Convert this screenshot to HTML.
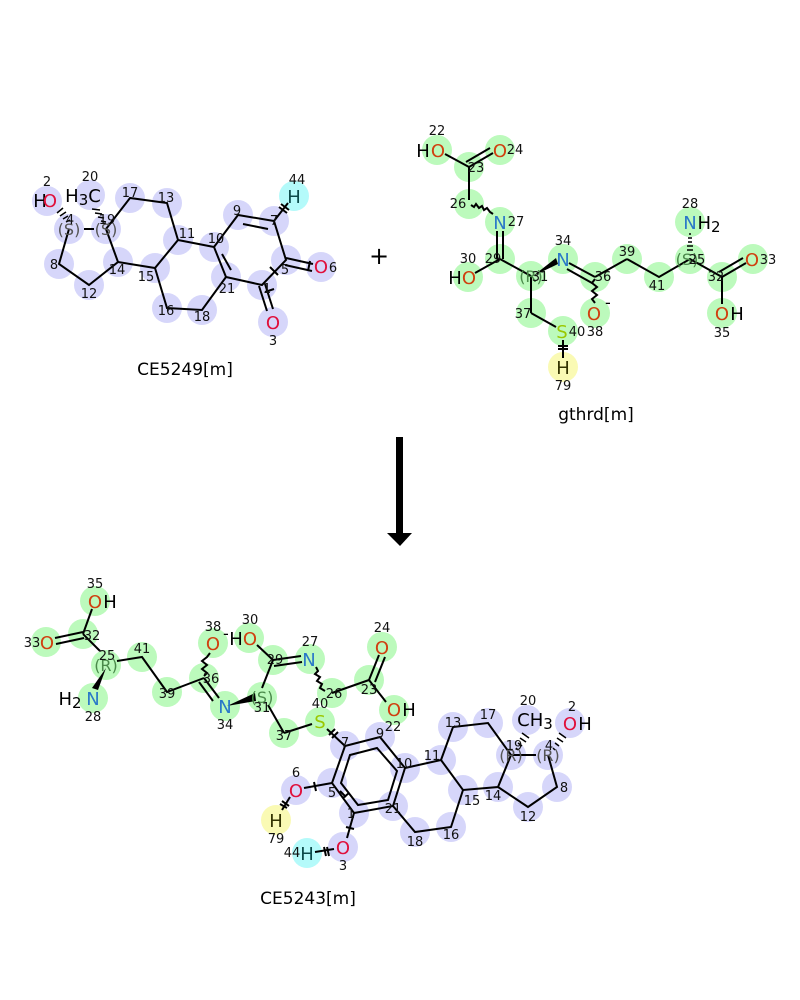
<!DOCTYPE html>
<html><head><meta charset="utf-8"><style>
html,body{margin:0;padding:0;background:#fff;}
svg{display:block;font-family:"DejaVu Sans","Liberation Sans",sans-serif;}
.n{font-size:13px;fill:#111;text-anchor:middle;}
.a{font-size:18px;text-anchor:middle;}
.b line,.b polyline,.b polygon{stroke:#000;stroke-width:2;fill:none;}
.cb circle{fill:#d6d6fa;}
.cg circle{fill:#bcfabc;}
.s{font-size:16px;fill:#555;text-anchor:middle;}
.sg{font-size:16px;fill:#4a8a4a;text-anchor:middle;}
</style></head><body>
<svg width="800" height="1000" viewBox="0 0 800 1000" xmlns="http://www.w3.org/2000/svg">
<!-- ============ Molecule 1 CE5249 ============ -->
<g class="cb">
<circle cx="47" cy="201" r="15"/><circle cx="69" cy="229" r="15"/><circle cx="106" cy="229" r="15"/>
<circle cx="90" cy="195" r="15"/><circle cx="130" cy="198" r="15"/><circle cx="167" cy="203" r="15"/>
<circle cx="178" cy="240" r="15"/><circle cx="214" cy="247" r="15"/><circle cx="238" cy="215" r="15"/>
<circle cx="274" cy="221" r="15"/><circle cx="286" cy="260" r="15"/><circle cx="321" cy="267" r="15"/>
<circle cx="262" cy="285" r="15"/><circle cx="273" cy="322" r="15"/><circle cx="226" cy="277" r="15"/>
<circle cx="202" cy="310" r="15"/><circle cx="167" cy="308" r="15"/><circle cx="155" cy="268" r="15"/>
<circle cx="118" cy="262" r="15"/><circle cx="89" cy="285" r="15"/><circle cx="59" cy="264" r="15"/>
</g>
<circle cx="294" cy="196" r="15" fill="#b4fafa"/>
<g class="b">
<polyline points="69,229 59,264 89,285 118,262 106,229"/>
<line x1="84" y1="229" x2="94" y2="229"/>
<polyline points="106,229 130,198 167,203 178,240 155,268 118,262"/>
<polyline points="178,240 214,247 238,215 274,221 286,260 262,285 226,277 214,247"/>
<line x1="243" y1="224" x2="268" y2="229"/>
<line x1="222" y1="254" x2="231" y2="270"/>
<polyline points="226,277 202,310 167,308 155,268"/>
<line x1="286" y1="258" x2="313" y2="264"/><line x1="285" y1="265" x2="312" y2="271"/>
<line x1="259" y1="286" x2="267" y2="311"/><line x1="265" y1="284" x2="273" y2="309"/>
<line x1="274" y1="221" x2="288" y2="203"/>
<line x1="281" y1="204" x2="289" y2="210" /><line x1="279" y1="207" x2="287" y2="213"/>
<line x1="270" y1="267" x2="278" y2="275"/><line x1="265" y1="292" x2="274" y2="289" stroke-width="1.5"/>
<line x1="310" y1="261" x2="308" y2="271"/>
</g>
<g stroke="#000" stroke-width="1.5">
<line x1="66" y1="222" x2="70" y2="220"/><line x1="63" y1="219" x2="68" y2="216"/><line x1="60" y1="216" x2="66" y2="212"/><line x1="57" y1="213" x2="63" y2="208"/>
<line x1="101" y1="221" x2="106" y2="222"/><line x1="98" y1="217" x2="104" y2="218"/><line x1="95" y1="213" x2="102" y2="214"/><line x1="92" y1="209" x2="100" y2="210"/>
</g>
<text class="s" x="69" y="235">(S)</text><text class="n" x="70" y="224">4</text>
<text class="s" x="106" y="235">(S)</text><text class="n" x="107" y="224">19</text>
<text class="a" x="40" y="207" fill="#000">H</text><text class="a" x="50" y="207" fill="#e0103c">O</text>
<text class="a" x="83" y="202" fill="#000">H<tspan font-size="15" dy="3">3</tspan><tspan dy="-3">C</tspan></text>
<text class="a" x="294" y="203" fill="#0b4a4a">H</text>
<text class="a" x="321" y="273" fill="#e0103c">O</text><text class="n" x="333" y="272">6</text>
<text class="a" x="273" y="329" fill="#e0103c">O</text><text class="n" x="273" y="345">3</text>
<text class="n" x="47" y="186">2</text><text class="n" x="90" y="181">20</text><text class="n" x="130" y="197">17</text>
<text class="n" x="166" y="202">13</text><text class="n" x="187" y="238">11</text><text class="n" x="216" y="243">10</text>
<text class="n" x="237" y="215">9</text><text class="n" x="274" y="225">7</text><text class="n" x="297" y="184">44</text>
<text class="n" x="285" y="274">5</text><text class="n" x="267" y="293">1</text><text class="n" x="227" y="293">21</text>
<text class="n" x="202" y="321">18</text><text class="n" x="166" y="315">16</text><text class="n" x="146" y="281">15</text>
<text class="n" x="117" y="274">14</text><text class="n" x="89" y="298">12</text><text class="n" x="54" y="269">8</text>
<text x="185" y="375" font-size="17" text-anchor="middle">CE5249[m]</text>
<text x="379" y="264" font-size="24" text-anchor="middle">+</text>

<!-- ============ Molecule 2 gthrd ============ -->
<g class="cg">
<circle cx="437" cy="150" r="15"/><circle cx="469" cy="167" r="15"/><circle cx="500" cy="150" r="15"/>
<circle cx="469" cy="204" r="15"/><circle cx="500" cy="222" r="15"/><circle cx="500" cy="259" r="15"/>
<circle cx="468" cy="277" r="15"/><circle cx="531" cy="276" r="15"/><circle cx="531" cy="313" r="15"/>
<circle cx="563" cy="331" r="15"/><circle cx="563" cy="259" r="15"/><circle cx="595" cy="277" r="15"/>
<circle cx="595" cy="313" r="15"/><circle cx="627" cy="259" r="15"/><circle cx="659" cy="277" r="15"/>
<circle cx="690" cy="259" r="15"/><circle cx="690" cy="222" r="15"/><circle cx="722" cy="277" r="15"/>
<circle cx="753" cy="259" r="15"/><circle cx="722" cy="313" r="15"/>
</g>
<circle cx="563" cy="367" r="15" fill="#fafab4"/>
<g class="b">
<line x1="445" y1="154" x2="469" y2="167"/>
<line x1="469" y1="167" x2="493" y2="153"/><line x1="466" y1="162" x2="490" y2="148"/>
<line x1="469" y1="167" x2="469" y2="200"/>
<polyline points="471,205 474,207 476,204 479,208 482,206 484,210 487,208 490,212 493,214" stroke-width="1.3"/>
<line x1="497" y1="231" x2="497" y2="259"/><line x1="503" y1="231" x2="503" y2="259"/>
<line x1="500" y1="259" x2="531" y2="276"/><line x1="500" y1="259" x2="475" y2="273"/>
<line x1="531" y1="276" x2="531" y2="313"/><line x1="531" y1="313" x2="556" y2="327"/>
<line x1="563" y1="340" x2="563" y2="358"/>
<line x1="558" y1="346" x2="568" y2="346"/><line x1="558" y1="349" x2="568" y2="349"/>
<line x1="569" y1="263" x2="595" y2="277"/><line x1="567" y1="269" x2="592" y2="283"/>
<line x1="595" y1="277" x2="627" y2="259"/><polyline points="627,259 659,277 690,259 722,277 722,304"/>
<line x1="722" y1="277" x2="746" y2="263"/><line x1="719" y1="272" x2="743" y2="258"/>
<polyline points="595,279 592,283 597,287 592,291 597,295 592,299 595,303" stroke-width="1.3"/>
</g>
<polygon points="533,276 556,258 558,264" fill="#000"/>
<g stroke="#000" stroke-width="1.5">
<line x1="687" y1="250" x2="693" y2="250"/><line x1="687" y1="246" x2="693" y2="246"/><line x1="688" y1="242" x2="692" y2="242"/><line x1="688" y1="238" x2="692" y2="238"/><line x1="689" y1="234" x2="691" y2="234"/>
</g>
<text class="a" x="423" y="157" fill="#000">H</text><text class="a" x="438" y="157" fill="#d04010">O</text>
<text class="a" x="500" y="157" fill="#d04010">O</text><text class="n" x="515" y="154">24</text><text class="n" x="437" y="135">22</text>
<text class="n" x="476" y="172">23</text><text class="n" x="458" y="208">26</text>
<text class="a" x="500" y="229" fill="#2a78c8">N</text><text class="n" x="516" y="226">27</text>
<text class="n" x="493" y="263">29</text><text class="n" x="468" y="263">30</text>
<text class="a" x="455" y="284" fill="#000">H</text><text class="a" x="469" y="284" fill="#d04010">O</text>
<text class="sg" x="531" y="282">(R)</text><text class="n" x="540" y="281">31</text>
<text class="a" x="563" y="266" fill="#2a78c8">N</text><text class="n" x="563" y="245">34</text>
<text class="n" x="603" y="281">36</text><text class="n" x="627" y="256">39</text><text class="n" x="657" y="290">41</text>
<text class="n" x="523" y="318">37</text>
<text class="a" x="562" y="338" fill="#9ac800">S</text><text class="n" x="577" y="336">40</text>
<text class="a" x="563" y="374" fill="#333300">H</text><text class="n" x="563" y="390">79</text>
<text class="a" x="594" y="320" fill="#d04010">O</text><text x="605" y="308" font-size="16">-</text><text class="n" x="595" y="336">38</text>
<text class="a" x="690" y="229" fill="#2a78c8">N</text><text class="a" x="709" y="229" fill="#000">H<tspan font-size="15" dy="3">2</tspan></text><text class="n" x="690" y="208">28</text>
<text class="sg" x="687" y="265">(S)</text><text class="n" x="697" y="264">25</text>
<text class="n" x="716" y="281">32</text>
<text class="a" x="752" y="266" fill="#d04010">O</text><text class="n" x="768" y="264">33</text>
<text class="a" x="722" y="320" fill="#d04010">O</text><text class="a" x="737" y="320" fill="#000">H</text><text class="n" x="722" y="337">35</text>
<text x="596" y="420" font-size="17" text-anchor="middle">gthrd[m]</text>

<!-- Arrow -->
<rect x="396" y="437" width="7" height="97" fill="#000"/>
<polygon points="387,533 412,533 400,546" fill="#000"/>

<!-- ============ Product CE5243 ============ -->
<g class="cg">
<circle cx="95" cy="601" r="15"/><circle cx="83" cy="634" r="15"/><circle cx="46" cy="642" r="15"/>
<circle cx="106" cy="665" r="15"/><circle cx="93" cy="698" r="15"/><circle cx="142" cy="657" r="15"/>
<circle cx="167" cy="692" r="15"/><circle cx="204" cy="678" r="15"/><circle cx="213" cy="643" r="15"/>
<circle cx="225" cy="706" r="15"/><circle cx="262" cy="697" r="15"/><circle cx="273" cy="660" r="15"/>
<circle cx="249" cy="638" r="15"/><circle cx="310" cy="659" r="15"/><circle cx="332" cy="693" r="15"/>
<circle cx="369" cy="680" r="15"/><circle cx="382" cy="647" r="15"/><circle cx="394" cy="710" r="15"/>
<circle cx="284" cy="733" r="15"/><circle cx="320" cy="722" r="15"/>
</g>
<g class="cb">
<circle cx="345" cy="746" r="15"/><circle cx="380" cy="737" r="15"/><circle cx="405" cy="768" r="15"/>
<circle cx="393" cy="806" r="15"/><circle cx="354" cy="813" r="15"/><circle cx="332" cy="783" r="15"/>
<circle cx="296" cy="790" r="15"/><circle cx="343" cy="847" r="15"/>
<circle cx="441" cy="760" r="15"/><circle cx="453" cy="727" r="15"/><circle cx="488" cy="723" r="15"/>
<circle cx="511" cy="755" r="15"/><circle cx="527" cy="720" r="15"/><circle cx="548" cy="755" r="15"/>
<circle cx="570" cy="723" r="15"/><circle cx="557" cy="787" r="15"/><circle cx="528" cy="807" r="15"/>
<circle cx="498" cy="787" r="15"/><circle cx="463" cy="790" r="15"/><circle cx="451" cy="827" r="15"/>
<circle cx="415" cy="832" r="15"/>
</g>
<circle cx="276" cy="820" r="15" fill="#fafab4"/><circle cx="307" cy="853" r="15" fill="#b4fafa"/>
<g class="b">
<line x1="92" y1="609" x2="83" y2="634"/>
<line x1="83" y1="632" x2="55" y2="638"/><line x1="84" y1="638" x2="56" y2="644"/>
<line x1="83" y1="634" x2="100" y2="651"/>
<polyline points="117,661 142,657 167,692 204,678"/>
<line x1="204" y1="678" x2="219" y2="698"/><line x1="199" y1="682" x2="213" y2="701"/>
<polyline points="204,676 207,673 202,669 207,665 202,661 207,657 210,653" stroke-width="1.3"/>
<line x1="273" y1="660" x2="262" y2="688"/>
<line x1="273" y1="660" x2="301" y2="656"/><line x1="274" y1="666" x2="302" y2="662"/>
<line x1="273" y1="660" x2="257" y2="645"/>
<polyline points="316,667 318,671 315,674 320,677 317,681 322,684 320,688 325,691" stroke-width="1.3"/>
<line x1="332" y1="693" x2="369" y2="680"/>
<line x1="369" y1="680" x2="379" y2="655"/><line x1="375" y1="682" x2="385" y2="657"/>
<line x1="369" y1="680" x2="386" y2="702"/>
<line x1="268" y1="705" x2="284" y2="733"/><line x1="284" y1="733" x2="312" y2="724"/>
<line x1="327" y1="729" x2="345" y2="746"/>
<line x1="329" y1="735" x2="335" y2="729"/><line x1="332" y1="738" x2="338" y2="732"/>
<polygon points="345,746 380,737 405,768 393,806 354,813 332,783" />
<polygon points="350,755 377,748 397,771 388,800 358,805 341,783" />
<line x1="332" y1="783" x2="304" y2="788"/><line x1="314" y1="782" x2="316" y2="791"/>
<line x1="290" y1="797" x2="282" y2="810"/><line x1="282" y1="801" x2="289" y2="806"/><line x1="280" y1="804" x2="287" y2="808"/>
<line x1="354" y1="813" x2="347" y2="838"/><line x1="346" y1="827" x2="354" y2="829"/>
<line x1="340" y1="791" x2="346" y2="797"/><line x1="343" y1="798" x2="349" y2="793"/>
<line x1="334" y1="849" x2="315" y2="852"/><line x1="324" y1="847" x2="326" y2="856"/><line x1="327" y1="847" x2="329" y2="856"/>
<line x1="405" y1="768" x2="441" y2="760"/>
<polyline points="441,760 453,727 488,723 511,755"/>
<polyline points="441,760 463,790 498,787 511,755"/>
<line x1="511" y1="755" x2="536" y2="755"/>
<polyline points="548,755 557,787 528,807 498,787"/>
<polyline points="393,806 415,832 451,827 463,790"/>
</g>
<polygon points="106,668 98,690 92,688" fill="#000"/>
<polygon points="227,706 255,693 256,701" fill="#000"/>
<g stroke="#000" stroke-width="1.5">
<line x1="516" y1="748" x2="518" y2="750"/><line x1="518" y1="743" x2="522" y2="746"/><line x1="520" y1="738" x2="526" y2="742"/><line x1="522" y1="733" x2="529" y2="738"/>
<line x1="553" y1="748" x2="555" y2="750"/><line x1="555" y1="743" x2="559" y2="746"/><line x1="557" y1="738" x2="563" y2="742"/><line x1="559" y1="733" x2="566" y2="738"/>
</g>
<text class="a" x="95" y="608" fill="#d04010">O</text><text class="a" x="110" y="608" fill="#000">H</text><text class="n" x="95" y="588">35</text>
<text class="n" x="92" y="640">32</text>
<text class="a" x="47" y="649" fill="#d04010">O</text><text class="n" x="32" y="647">33</text>
<text class="sg" x="106" y="671">(R)</text><text class="n" x="107" y="660">25</text>
<text class="a" x="70" y="705" fill="#000">H<tspan font-size="15" dy="3">2</tspan></text><text class="a" x="93" y="705" fill="#2a78c8">N</text><text class="n" x="93" y="721">28</text>
<text class="n" x="142" y="653">41</text><text class="n" x="167" y="698">39</text><text class="n" x="211" y="683">36</text>
<text class="a" x="213" y="650" fill="#d04010">O</text><text x="223" y="639" font-size="16">-</text><text class="n" x="213" y="631">38</text>
<text class="a" x="236" y="645" fill="#000">H</text><text class="a" x="250" y="645" fill="#d04010">O</text><text class="n" x="250" y="624">30</text>
<text class="n" x="275" y="664">29</text>
<text class="a" x="309" y="666" fill="#2a78c8">N</text><text class="n" x="310" y="646">27</text>
<text class="a" x="225" y="713" fill="#2a78c8">N</text><text class="n" x="225" y="729">34</text>
<text class="sg" x="262" y="703">(S)</text><text class="n" x="262" y="712">31</text>
<text class="n" x="334" y="698">26</text><text class="n" x="369" y="694">23</text>
<text class="a" x="382" y="654" fill="#d04010">O</text><text class="n" x="382" y="632">24</text>
<text class="a" x="394" y="716" fill="#d04010">O</text><text class="a" x="409" y="716" fill="#000">H</text><text class="n" x="393" y="731">22</text>
<text class="n" x="284" y="740">37</text>
<text class="a" x="320" y="728" fill="#9ac800">S</text><text class="n" x="320" y="708">40</text>
<text class="n" x="345" y="747">7</text><text class="n" x="380" y="738">9</text><text class="n" x="404" y="768">10</text>
<text class="n" x="393" y="813">21</text><text class="n" x="351" y="818">1</text><text class="n" x="332" y="797">5</text>
<text class="a" x="296" y="797" fill="#e0103c">O</text><text class="n" x="296" y="777">6</text>
<text class="a" x="276" y="827" fill="#333300">H</text><text class="n" x="276" y="843">79</text>
<text class="a" x="307" y="860" fill="#0b4a4a">H</text><text class="n" x="292" y="857">44</text>
<text class="a" x="343" y="854" fill="#e0103c">O</text><text class="n" x="343" y="870">3</text>
<text class="n" x="432" y="760">11</text><text class="n" x="453" y="727">13</text><text class="n" x="488" y="719">17</text>
<text class="s" x="511" y="761">(R)</text><text class="n" x="514" y="750">19</text>
<text class="a" x="535" y="726" fill="#000">CH<tspan font-size="15" dy="3">3</tspan></text><text class="n" x="528" y="705">20</text>
<text class="s" x="548" y="761">(R)</text><text class="n" x="549" y="750">4</text>
<text class="a" x="570" y="730" fill="#e0103c">O</text><text class="a" x="585" y="730" fill="#000">H</text><text class="n" x="572" y="711">2</text>
<text class="n" x="564" y="792">8</text><text class="n" x="528" y="821">12</text><text class="n" x="493" y="800">14</text>
<text class="n" x="472" y="805">15</text><text class="n" x="451" y="839">16</text><text class="n" x="415" y="846">18</text>
<text x="308" y="904" font-size="17" text-anchor="middle">CE5243[m]</text>
</svg>
</body></html>
